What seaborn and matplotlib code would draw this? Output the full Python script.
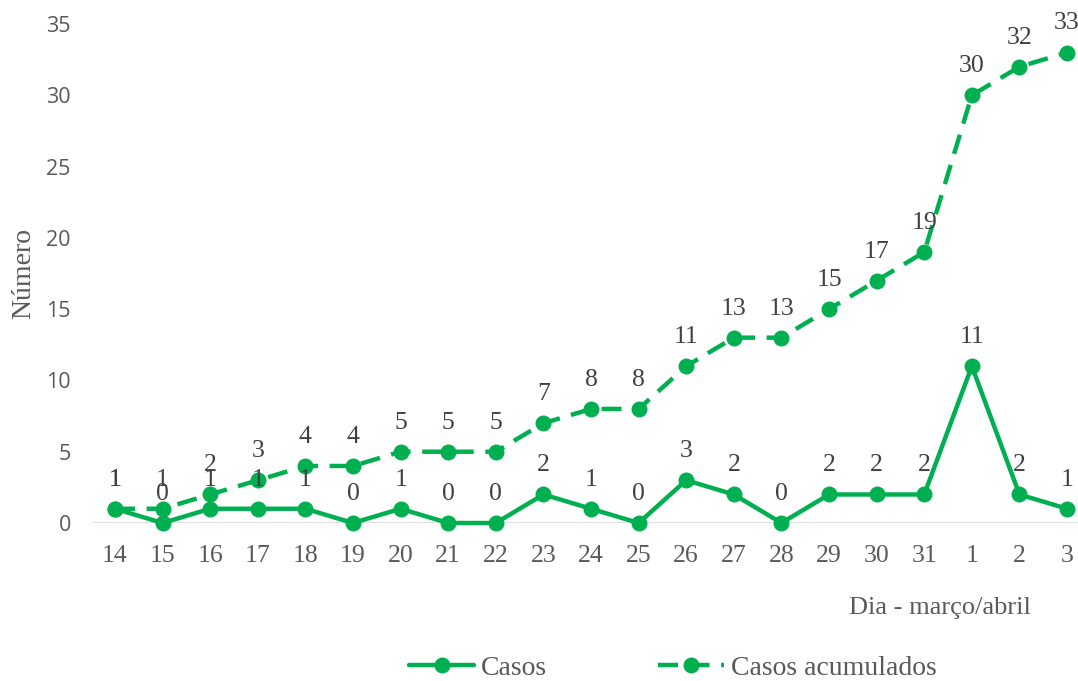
import numpy as np
import pandas as pd
import matplotlib
matplotlib.use("Agg")
import matplotlib.pyplot as plt
import seaborn as sns

# dados
dias = ["14", "15", "16", "17", "18", "19", "20", "21", "22", "23", "24",
        "25", "26", "27", "28", "29", "30", "31", "1", "2", "3"]
casos = [1, 0, 1, 1, 1, 0, 1, 0, 0, 2, 1, 0, 3, 2, 0, 2, 2, 2, 11, 2, 1]
acumulados = [1, 1, 2, 3, 4, 4, 5, 5, 5, 7, 8, 8, 11, 13, 13, 15, 17, 19, 30, 32, 33]

verde = "#00B050"
cinza = "#595959"
serif = "Liberation Serif"

sns.set_style("white")

df = pd.DataFrame({"pos": np.arange(len(dias)), "casos": casos, "acum": acumulados})

fig = plt.figure(figsize=(10.78, 6.81), dpi=100)
ax = fig.add_axes([93 / 1078, 158 / 681, 985 / 1078, 499 / 681])

sns.lineplot(data=df, x="pos", y="casos", ax=ax, color=verde, linewidth=3.2,
             marker="o", markersize=11.5, markeredgewidth=0, label="Casos",
             clip_on=False, zorder=4)
sns.lineplot(data=df, x="pos", y="acum", ax=ax, color=verde, linewidth=3.2,
             marker="o", markersize=11.5, markeredgewidth=0, label="Casos acumulados",
             clip_on=False, zorder=3)
ax.lines[1].set_dashes([4.5, 2.6])

# rótulos de dados
for i, (c, a) in enumerate(zip(casos, acumulados)):
    ax.annotate(str(c), (i, c), xytext=(0, 13), textcoords="offset points",
                ha="center", va="bottom", fontsize=18.5, family=serif, color="#404040")
    ax.annotate(str(a), (i, a), xytext=(0, 13), textcoords="offset points",
                ha="center", va="bottom", fontsize=18.5, family=serif, color="#404040")

ax.set_xlim(-0.462, 20.23)
ax.set_ylim(0, 35)
ax.set_yticks(range(0, 36, 5))
ax.set_xticks(range(len(dias)))
ax.set_xticklabels(dias, family=serif, fontsize=18.5, color=cinza)
for t in ax.get_yticklabels():
    t.set_family("Open Sans")
    t.set_fontsize(15.5)
    t.set_color(cinza)
ax.tick_params(axis="both", length=0)
ax.tick_params(axis="x", pad=16)
ax.tick_params(axis="y", pad=16)

for s in ax.spines.values():
    s.set_visible(False)
ax.axhline(0, color="#D9D9D9", linewidth=1.2, zorder=1)

ax.set_xlabel("")
ax.set_ylabel("Número", family=serif, fontsize=20, color=cinza)
ax.yaxis.set_label_coords(-0.058, 0.5)
fig.text(940 / 1078, 1 - 608 / 681, "Dia - março/abril", ha="center", va="center",
         family=serif, fontsize=19, color=cinza)

leg = ax.legend(loc="center", bbox_to_anchor=(0.624, 1 - 668 / 681), bbox_transform=fig.transFigure,
                ncol=2, frameon=False, prop={"family": serif, "size": 20},
                handlelength=2.35, columnspacing=4.0, handletextpad=0.25)
for t in leg.get_texts():
    t.set_color(cinza)

fig.savefig("out.png", dpi=100)
